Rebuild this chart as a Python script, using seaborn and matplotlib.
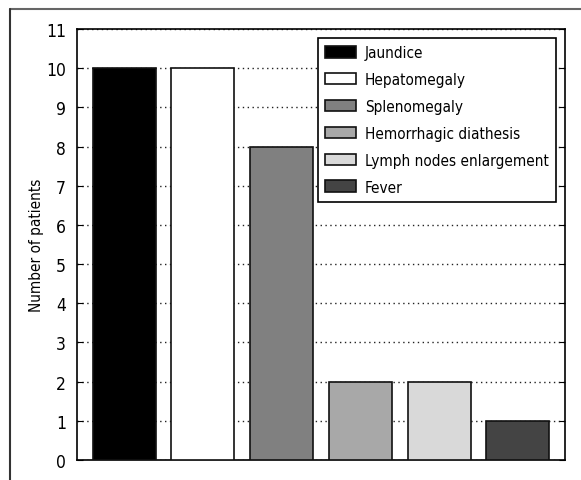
import pandas as pd
import matplotlib.pyplot as plt
import seaborn as sns
from matplotlib.lines import Line2D

symptoms = ['Jaundice', 'Hepatomegaly', 'Splenomegaly', 'Hemorrhagic diathesis',
            'Lymph nodes enlargement', 'Fever']
patients = [10, 10, 8, 2, 2, 1]
colors = ['#000000', '#ffffff', '#808080', '#a8a8a8', '#d9d9d9', '#444444']

sns.set_style('white')
plt.rcParams['font.family'] = ['Liberation Sans Narrow', 'DejaVu Sans']
plt.rcParams['font.stretch'] = 'condensed'
plt.rcParams['text.color'] = 'black'
plt.rcParams['axes.labelcolor'] = 'black'
plt.rcParams['ytick.color'] = 'black'

data = pd.DataFrame({'symptom': symptoms, 'patients': patients})

fig = plt.figure(figsize=(5.81, 4.81), dpi=100)
ax = fig.add_axes([77 / 581, 20 / 481, 488 / 581, 431 / 481])

sns.barplot(data=data, x='symptom', y='patients', hue='symptom', order=symptoms,
            hue_order=symptoms, palette=colors, dodge=False, width=0.8,
            edgecolor='#111111', linewidth=1.2, legend=True, ax=ax, zorder=3)

ax.set_xlim(-0.6, 5.6)
ax.set_ylim(0, 11)
ax.set_yticks(range(0, 12))
ax.set_xticks([])
ax.set_xlabel('')
ax.set_ylabel('Number of patients', fontsize=11, labelpad=1)
ax.tick_params(axis='y', direction='in', length=4, pad=8, labelsize=12.5, right=True, left=True)
ax.yaxis.grid(True, linestyle=(0, (1, 2.5)), color='#222222', linewidth=1)
ax.set_axisbelow(True)
for s in ax.spines.values():
    s.set_color('black')
    s.set_linewidth(1.2)

leg = ax.legend(loc='upper right', fontsize=11, borderaxespad=0.6,
                frameon=True, fancybox=False, edgecolor='black', framealpha=1,
                handlelength=2.0, handleheight=0.8, handletextpad=0.6,
                borderpad=0.45, labelspacing=0.78)
leg.get_frame().set_linewidth(1.2)

# journal frame: top and left rules
fig.add_artist(Line2D([10 / 581, 1], [1 - 10 / 481, 1 - 10 / 481], color='#666666', lw=1.5))
fig.add_artist(Line2D([10 / 581, 10 / 581], [0, 1 - 10 / 481], color='#333333', lw=1.5))

fig.savefig('out.png', dpi=100)
